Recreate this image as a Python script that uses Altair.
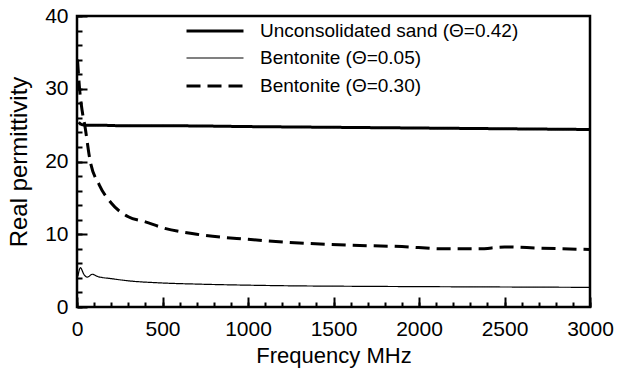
import altair as alt
import pandas as pd

series_names = ["Unconsolidated sand (Θ=0.42)", "Bentonite (Θ=0.05)", "Bentonite (Θ=0.30)"]

sand_freq = [10, 25, 50, 100, 300, 600, 1000, 1500, 2000, 2500, 3000]
sand_eps = [25.4, 25.1, 25.0, 25.0, 24.9, 24.9, 24.8, 24.7, 24.6, 24.5, 24.4]

bent05_freq = [5, 20, 40, 60, 90, 120, 200, 300, 500, 700, 1000, 1300, 1600, 2000, 2500, 3000]
bent05_eps = [4.2, 5.4, 4.5, 4.1, 4.5, 4.2, 3.9, 3.6, 3.3, 3.15, 3.0, 2.9, 2.85, 2.8, 2.75, 2.7]

bent30_freq = [3, 15, 30, 46, 76, 130, 200, 300, 400, 500, 700, 1000, 1300, 1600, 1900, 2150, 2350, 2500, 2700, 3000]
bent30_eps = [34.0, 30.0, 27.0, 24.9, 20.2, 16.8, 14.3, 12.4, 11.7, 10.9, 10.0, 9.3, 8.8, 8.5, 8.3, 8.0, 8.0, 8.25, 8.1, 7.9]

x_major = [0, 500, 1000, 1500, 2000, 2500, 3000]
x_minor = list(range(0, 3001, 100))
y_major = [0, 10, 20, 30, 40]
y_minor = list(range(0, 41, 2))

rows = []
for name, fs, vs in zip(series_names, [sand_freq, bent05_freq, bent30_freq], [sand_eps, bent05_eps, bent30_eps]):
    for f, v in zip(fs, vs):
        rows.append({"series": name, "freq": f, "eps": v})
df = pd.DataFrame(rows)

FONT = "Liberation Sans"
x_scale = alt.Scale(domain=[0, 3000], nice=False, zero=False)
y_scale = alt.Scale(domain=[0, 40], nice=False)

legend = alt.Legend(
    title=None, orient="none", legendX=122, legendY=-1, padding=0,
    symbolType="M-2,0H2", symbolSize=812, symbolStrokeColor="black",
    rowPadding=2, labelOffset=29, labelFont=FONT, labelFontSize=19,
    labelColor="black", labelLimit=400,
)

lines = alt.Chart(df).mark_line(interpolate="monotone", strokeCap="butt", clip=True).encode(
    x=alt.X("freq:Q", scale=x_scale, axis=alt.Axis(
        orient="bottom", values=x_major, format="d", tickSize=10, offset=-10, tickWidth=2, tickColor="black",
        domain=False, grid=False, labelPadding=11, labelFont=FONT, labelFontSize=21,
        labelColor="black", title="Frequency MHz", titleFont=FONT, titleFontSize=22,
        titleFontWeight="normal", titleColor="black", titlePadding=6, labelFlush=False)),
    y=alt.Y("eps:Q", scale=y_scale, axis=alt.Axis(
        orient="left", values=y_major, format="d", tickSize=10, offset=-10, tickWidth=2, tickColor="black",
        domain=False, grid=False, labelPadding=9, labelFont=FONT, labelFontSize=21,
        labelColor="black", title="Real permittivity", titleFont=FONT, titleFontSize=24,
        titleFontWeight="normal", titleColor="black", titlePadding=13)),
    strokeDash=alt.StrokeDash("series:N", scale=alt.Scale(domain=series_names, range=[[1, 0], [1, 0], [14, 7]]), legend=legend),
    strokeWidth=alt.StrokeWidth("series:N", scale=alt.Scale(type="ordinal", domain=series_names, range=[3, 1.2, 3]), legend=legend),
    color=alt.value("black"),
)

minor = alt.Chart(df).mark_line(opacity=0).encode(
    x=alt.X("freq:Q", scale=x_scale, axis=alt.Axis(
        orient="bottom", values=x_minor, tickSize=5, offset=-5, tickWidth=2, tickColor="black",
        domain=False, grid=False, labels=False, title=None)),
    y=alt.Y("eps:Q", scale=y_scale, axis=alt.Axis(
        orient="left", values=y_minor, tickSize=5, offset=-5, tickWidth=2, tickColor="black",
        domain=False, grid=False, labels=False, title=None)),
    detail="series:N",
)

chart = alt.layer(lines, minor).resolve_axis(x="independent", y="independent").properties(
    width=513, height=291,
    autosize=alt.AutoSizeParams(type="none"),
    padding={"left": 77, "top": 16, "right": 28, "bottom": 66},
    background="white",
).configure_view(stroke="black", strokeWidth=2.5)

chart.save("out.html", embed_options={"renderer": "svg", "actions": False})
